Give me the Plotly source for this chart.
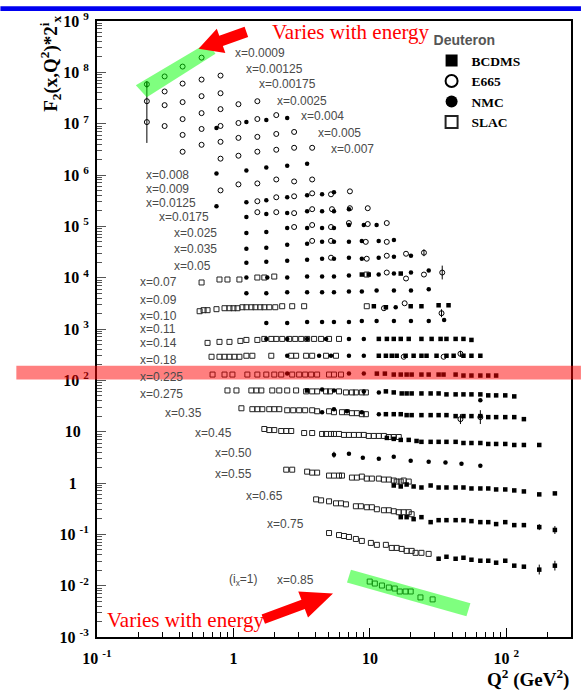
import plotly.graph_objects as go

# ---------------- data ----------------
x_bins = [0.0009, 0.00125, 0.00175, 0.0025, 0.004, 0.005, 0.007, 0.008, 0.009,
          0.0125, 0.0175, 0.025, 0.035, 0.05, 0.07, 0.09, 0.10, 0.11, 0.14, 0.18,
          0.225, 0.275, 0.35, 0.45, 0.50, 0.55, 0.65, 0.75, 0.85]
i_x = [29, 28, 27, 26, 25, 24, 23, 22, 21, 20, 19, 18, 17, 16, 15, 14, 13, 12,
       11, 10, 9, 8, 7, 6, 5, 4, 3, 2, 1]
bin_labels = ["x=0.0009", "x=0.00125", "x=0.00175", "x=0.0025", "x=0.004", "x=0.005",
              "x=0.007", "x=0.008", "x=0.009", "x=0.0125", "x=0.0175", "x=0.025",
              "x=0.035", "x=0.05", "x=0.07", "x=0.09", "x=0.10", "x=0.11", "x=0.14",
              "x=0.18", "x=0.225", "x=0.275", "x=0.35", "x=0.45", "x=0.50", "x=0.55",
              "x=0.65", "x=0.75", "x=0.85"]

# F2 values per x-bin: (Q2 list [GeV^2], F2 list)
E665 = {
    0.0009: ([0.232, 0.313, 0.424, 0.584], [0.109, 0.155, 0.241, 0.360]),
    0.00125: ([0.232, 0.313, 0.424, 0.584, 0.804], [0.102, 0.158, 0.225, 0.269, 0.322]),
    0.00175: ([0.232, 0.313, 0.424, 0.584, 0.804], [0.080, 0.171, 0.196, 0.256, 0.292]),
    0.0025: ([0.313, 0.424, 0.584, 0.804, 1.088, 1.497], [0.134, 0.183, 0.239, 0.286, 0.357, 0.408]),
    0.004: ([0.424, 0.584, 0.804, 1.088, 1.497, 2.060], [0.180, 0.235, 0.269, 0.307, 0.367, 0.438]),
    0.005: ([0.424, 0.584, 0.804, 1.088, 1.497, 2.060, 2.785], [0.169, 0.231, 0.264, 0.315, 0.330, 0.376, 0.411]),
    0.007: ([0.804, 1.088, 1.497, 2.060, 2.785, 3.775], [0.248, 0.283, 0.339, 0.370, 0.404, 0.404]),
    0.009: ([0.804, 1.088, 1.497, 2.060, 2.785, 3.775], [0.239, 0.313, 0.327, 0.390, 0.357, 0.390]),
    0.0125: ([1.497, 2.060, 2.785, 3.775, 5.187, 7.139], [0.294, 0.351, 0.367, 0.419, 0.401, 0.458]),
    0.0175: ([1.497, 2.060, 2.785, 3.775, 5.274, 7.139, 9.646], [0.360, 0.360, 0.345, 0.412, 0.412, 0.430, 0.430]),
    0.025: ([2.785, 3.775, 5.187, 7.020, 9.646, 13.3], [0.370, 0.405, 0.370, 0.442, 0.423, 0.442]),
    0.035: ([3.775, 5.187, 9.329, 13.3], [0.397, 0.397, 0.380, 0.380]),
    0.05: ([5.187, 9.486, 13.3, 18.4, 24.9], [0.374, 0.357, 0.408, 0.446, 0.467]),
    0.07: ([13.3, 18.4, 24.9, 33.9], [0.384, 0.294, 0.351, 0.384]),
    0.10: ([12.67, 17.98], [0.310, 0.387]),
    0.11: ([33.5], [0.496]),
    0.18: ([17.7, 34.7, 46.1], [0.281, 0.281, 0.321]),
    0.35: ([46.1, 64.5], [0.137, 0.150]),
}
E665_err = {  # (x-bin, point index): (plus, minus) in F2 units
    (0.0009, 0): (0.017, 0.015),
    (0.00175, 0): (0.394, 0.0486),
    (0.05, 4): (0.078, 0.067),
    (0.07, 3): (0.140, 0.102),
    (0.11, 0): (0.096, 0.081),
    (0.18, 2): (0.046, 0.041),
    (0.35, 0): (0.034, 0.027),
    (0.35, 1): (0.055, 0.040),
}

NMC = {
    0.004: ([0.751, 1.244, 1.741, 2.478], [0.246, 0.321, 0.351, 0.383]),
    0.008: ([0.751, 1.244, 1.741, 2.478, 3.467], [0.255, 0.291, 0.332, 0.363, 0.397]),
    0.0125: ([0.751, 1.244, 1.741, 2.478, 3.467, 4.463, 5.454], [0.235, 0.281, 0.307, 0.351, 0.384, 0.401, 0.438]),
    0.0175: ([1.244, 1.741, 2.478, 3.467, 4.463, 5.454, 7.020], [0.289, 0.330, 0.345, 0.377, 0.377, 0.377, 0.412]),
    0.025: ([1.244, 1.741, 2.478, 3.467, 4.463, 5.454, 7.020, 9.024, 11.2],
            [0.284, 0.296, 0.354, 0.354, 0.354, 0.354, 0.405, 0.405, 0.405]),
    0.035: ([1.244, 1.741, 2.478, 3.467, 4.463, 5.454, 7.020, 8.729, 11.6, 15.0],
            [0.279, 0.291, 0.333, 0.348, 0.380, 0.380, 0.380, 0.397, 0.397, 0.415]),
    0.05: ([1.244, 1.741, 2.478, 3.467, 4.463, 5.454, 7.020, 8.729, 11.6, 15.0, 20.0],
           [0.299, 0.313, 0.327, 0.342, 0.357, 0.357, 0.374, 0.357, 0.374, 0.391, 0.408]),
    0.07: ([1.244, 1.770, 2.478, 3.467, 4.463, 5.454, 7.020, 11.6, 15.0, 20.0, 27.0],
           [0.307, 0.307, 0.307, 0.321, 0.321, 0.321, 0.336, 0.351, 0.367, 0.384, 0.420]),
    0.09: ([1.244, 1.741, 2.478, 3.467, 4.463, 5.454, 7.020, 8.729, 11.2, 15.0, 20.0, 27.0],
           [0.302, 0.302, 0.316, 0.316, 0.316, 0.316, 0.330, 0.330, 0.345, 0.345, 0.345, 0.361]),
    0.10: ([15.46], [0.324]),
    0.11: ([1.741, 2.478, 3.467, 4.463, 5.454, 7.020, 8.729, 11.2, 15.0, 20.0, 27.0, 35.0],
           [0.318, 0.318, 0.333, 0.333, 0.333, 0.333, 0.348, 0.348, 0.348, 0.348, 0.348, 0.364]),
    0.14: ([1.741, 2.478, 3.467, 4.773, 7.022, 9.025], [0.313, 0.313, 0.313, 0.313, 0.313, 0.313]),
    0.18: ([2.478, 4.244, 5.187, 7.022, 9.025], [0.294, 0.294, 0.294, 0.294, 0.294]),
    0.225: ([2.478, 7.022, 9.025], [0.264, 0.264, 0.264]),
    0.275: ([4.463, 5.454, 9.025, 11.63, 64.5], [0.260, 0.248, 0.238, 0.227, 0.159]),
    0.35: ([4.463, 5.454, 6.791, 8.729, 11.63], [0.187, 0.214, 0.195, 0.187, 0.171]),
    0.50: ([5.454, 7.022, 8.878, 11.63, 14.96, 19.91, 26.97, 35.81, 46.91, 64.5],
           [0.111, 0.116, 0.097, 0.093, 0.101, 0.085, 0.081, 0.078, 0.074, 0.068]),
}
NMC_err = {
    (0.50, 0): (0.016, 0.014),
}

BCDMS = {
    0.07: ([8.729, 9.810, 16.83], [0.351, 0.351, 0.367]),
    0.10: ([10.69, 13.10, 19.91, 23.87, 31.9, 37.72], [0.339, 0.324, 0.339, 0.339, 0.354, 0.354]),
    0.14: ([11.63, 13.32, 14.96, 16.83, 19.26, 23.87, 28.34, 32.97, 36.41, 42.5, 48.5, 55.5],
           [0.313, 0.313, 0.313, 0.313, 0.313, 0.313, 0.313, 0.313, 0.313, 0.313, 0.313, 0.299]),
    0.18: ([11.63, 13.10, 14.47, 15.72, 18.28, 20.92, 23.87, 26.02, 30.8, 36.41, 41.1, 48.5, 55.5, 64.5],
           [0.294, 0.294, 0.294, 0.294, 0.294, 0.294, 0.294, 0.294, 0.294, 0.294, 0.294, 0.294, 0.294, 0.294]),
    0.225: ([11.25, 12.88, 14.96, 16.83, 18.59, 20.24, 23.87, 26.97, 31.9, 34.65, 42.5, 48.5, 55.5, 64.5, 73.7, 84.2],
            [0.264, 0.264, 0.253, 0.253, 0.253, 0.253, 0.253, 0.253, 0.253, 0.253, 0.253, 0.242, 0.242, 0.242, 0.242, 0.242]),
    0.275: ([3.468, 13.10, 14.96, 17.11, 18.59, 20.24, 23.87, 27.88, 31.9, 36.41, 42.5, 48.5, 55.5, 64.5, 73.7, 84.2, 98.2, 114.3],
            [0.248, 0.238, 0.227, 0.217, 0.217, 0.217, 0.217, 0.217, 0.217, 0.208, 0.208, 0.208, 0.208, 0.208, 0.199, 0.199, 0.199, 0.190]),
    0.35: ([13.10, 14.96, 16.83, 18.59, 20.24, 23.87, 27.88, 31.9, 36.41, 42.5, 48.5, 55.5, 64.5, 73.7, 84.2, 98.2, 114.3, 134.5],
           [0.171, 0.171, 0.171, 0.164, 0.164, 0.164, 0.164, 0.164, 0.164, 0.157, 0.157, 0.157, 0.157, 0.150, 0.150, 0.150, 0.150, 0.137]),
    0.45: ([13.32, 14.96, 16.83, 19.26, 21.98, 23.87, 27.88, 31.9, 36.41, 42.5, 48.5, 55.5, 64.5, 73.7, 84.2, 98.2, 114.3, 134.5, 174.3],
           [0.118, 0.113, 0.108, 0.108, 0.103, 0.099, 0.099, 0.099, 0.099, 0.099, 0.094, 0.094, 0.094, 0.090, 0.090, 0.090, 0.086, 0.086, 0.086]),
    0.55: ([14.96, 16.83, 18.59, 20.92, 23.87, 27.88, 31.9, 36.41, 42.5, 48.5, 55.5, 64.5, 73.7, 84.2, 98.2, 114.3, 134.5, 174.3, 226.9],
           [0.0559, 0.0535, 0.0584, 0.0535, 0.0511, 0.0559, 0.0511, 0.0511, 0.0511, 0.0511, 0.0489, 0.0489, 0.0489, 0.0468, 0.0468, 0.0448, 0.0428, 0.0375, 0.0392]),
    0.65: ([16.83, 18.59, 20.92, 23.87, 27.88, 31.9, 36.41, 42.5, 48.5, 55.5, 64.5, 73.7, 84.2, 98.2, 114.3, 134.5, 174.3, 226.9],
           [0.0270, 0.0270, 0.0247, 0.0270, 0.0216, 0.0236, 0.0236, 0.0236, 0.0236, 0.0226, 0.0216, 0.0216, 0.0198, 0.0216, 0.0189, 0.0189, 0.0173, 0.0152]),
    0.75: ([31.9, 36.41, 42.5, 48.5, 55.5, 64.5, 73.7, 84.2, 98.2, 114.3, 134.5, 174.3, 226.9],
           [0.00836, 0.00914, 0.00836, 0.00874, 0.00800, 0.00765, 0.00765, 0.00700, 0.00765, 0.00613, 0.00586, 0.00513, 0.00613]),
}
BCDMS_err = {
    (0.65, 16): (0.0025, 0.0022),
    (0.65, 17): (0.0029, 0.0025),
    (0.75, 0): (0.0008, 0.0007),
    (0.75, 11): (0.0013, 0.0010),
    (0.75, 12): (0.0015, 0.0012),
}

SLAC = {
    0.07: ([0.584, 0.790, 0.904, 1.106, 1.497, 1.684, 1.992, 9.488],
           [0.246, 0.281, 0.281, 0.281, 0.307, 0.307, 0.321, 0.351]),
    0.10: ([0.565, 0.604, 0.646, 0.751, 0.860, 0.935, 1.000, 1.070, 1.163, 1.244, 1.353, 1.447, 1.574, 1.684, 1.831, 2.026, 2.277, 2.695, 3.298, 9.488],
           [0.271, 0.284, 0.284, 0.297, 0.310, 0.310, 0.310, 0.310, 0.324, 0.324, 0.324, 0.324, 0.324, 0.324, 0.324, 0.324, 0.339, 0.339, 0.339, 0.339]),
    0.14: ([0.646, 0.790, 0.935, 1.125, 1.244, 1.497, 1.684, 1.894, 2.060, 2.277, 2.563, 2.835, 3.136, 3.468, 3.902, 4.389, 5.019, 5.938],
           [0.262, 0.274, 0.274, 0.286, 0.299, 0.299, 0.313, 0.313, 0.313, 0.313, 0.313, 0.313, 0.313, 0.313, 0.313, 0.313, 0.313, 0.313]),
    0.18: ([0.691, 0.790, 0.860, 0.935, 1.017, 1.106, 1.244, 1.376, 1.894, 2.651, 2.880, 3.410, 3.775, 4.773, 5.646],
           [0.281, 0.281, 0.281, 0.281, 0.281, 0.281, 0.294, 0.294, 0.294, 0.294, 0.294, 0.294, 0.294, 0.294, 0.294]),
    0.225: ([0.703, 0.860, 0.983, 1.265, 1.497, 1.741, 1.992, 2.240, 2.695, 3.032, 3.354, 3.709, 4.104, 5.019, 5.454, 6.141],
            [0.253, 0.253, 0.253, 0.253, 0.253, 0.253, 0.253, 0.253, 0.253, 0.253, 0.253, 0.253, 0.253, 0.253, 0.253, 0.253]),
    0.275: ([0.904, 1.052, 1.353, 1.472, 1.601, 1.926, 2.167, 2.478, 2.880, 3.410, 3.775, 4.104, 4.773, 5.102, 5.938, 6.677, 7.389, 7.896, 8.729, 9.350],
            [0.248, 0.248, 0.248, 0.248, 0.248, 0.248, 0.248, 0.248, 0.248, 0.238, 0.238, 0.238, 0.238, 0.238, 0.238, 0.227, 0.227, 0.227, 0.227, 0.227]),
    0.35: ([1.144, 1.376, 1.497, 1.628, 1.831, 1.992, 2.167, 2.478, 2.741, 3.032, 3.354, 3.775, 4.104, 5.019, 5.454, 6.243, 6.791, 7.389, 8.029, 8.729, 9.350],
           [0.223, 0.214, 0.214, 0.214, 0.214, 0.214, 0.214, 0.204, 0.204, 0.204, 0.204, 0.204, 0.195, 0.195, 0.187, 0.187, 0.187, 0.179, 0.179, 0.171, 0.171]),
    0.45: ([1.684, 1.831, 1.992, 2.240, 2.437, 2.651, 3.298, 3.775, 4.463, 4.773, 5.187, 5.454, 5.938, 6.457, 7.022, 7.640, 8.312, 9.025, 9.810, 10.69, 11.63, 12.67, 13.77, 14.96, 16.28],
           [0.176, 0.168, 0.168, 0.161, 0.161, 0.161, 0.147, 0.147, 0.141, 0.141, 0.141, 0.141, 0.141, 0.135, 0.135, 0.135, 0.135, 0.135, 0.129, 0.129, 0.129, 0.129, 0.123, 0.123, 0.123]),
    0.55: ([2.437, 2.695, 3.468, 3.775, 4.104, 5.019, 5.454, 5.938, 6.243, 7.389, 8.029, 8.729, 9.488, 10.34, 11.63, 12.67, 13.77, 14.96, 15.72, 16.83, 17.69, 19.26],
           [0.1136, 0.1136, 0.1040, 0.0995, 0.0995, 0.0871, 0.0871, 0.0871, 0.0871, 0.0797, 0.0797, 0.0833, 0.0762, 0.0762, 0.0762, 0.0729, 0.0729, 0.0698, 0.0667, 0.0667, 0.0698, 0.0667]),
    0.65: ([4.036, 4.389, 5.019, 5.646, 6.141, 6.677, 7.896, 8.590, 9.488, 10.34, 11.25, 12.67, 13.77, 14.96, 16.28, 17.69, 19.26, 20.24],
           [0.0600, 0.0574, 0.0549, 0.0502, 0.0502, 0.0480, 0.0440, 0.0440, 0.0421, 0.0421, 0.0385, 0.0368, 0.0368, 0.0352, 0.0337, 0.0337, 0.0337, 0.0308]),
    0.75: ([5.019, 5.938, 6.457, 7.022, 7.896, 8.729, 10.17, 11.25, 13.10, 14.47, 15.72, 17.11, 18.59, 20.24, 21.62, 23.87, 26.97],
           [0.0265, 0.0242, 0.0232, 0.0222, 0.0203, 0.0186, 0.0170, 0.0156, 0.0156, 0.0136, 0.0136, 0.0130, 0.0119, 0.0119, 0.0109, 0.0109, 0.0104]),
    0.85: ([9.97, 10.87, 12.25, 13.77, 15.21, 16.55, 18.28, 19.91, 23.48, 28.82],
           [0.00601, 0.00550, 0.00503, 0.00460, 0.00440, 0.00385, 0.00385, 0.00385, 0.00295, 0.00270]),
}
SLAC_err = {}

y_tick_vals = [1e-3, 1e-2, 1e-1, 1, 10, 1e2, 1e3, 1e4, 1e5, 1e6, 1e7, 1e8, 1e9]
y_tick_text = ["10 <sup>-3</sup>", "10 <sup>-2</sup>", "10 <sup>-1</sup>", "1\u00a0\u00a0\u00a0", "10\u00a0\u00a0",
               "10 <sup>2</sup>", "10 <sup>3</sup>", "10 <sup>4</sup>", "10 <sup>5</sup>", "10 <sup>6</sup>",
               "10 <sup>7</sup>", "10 <sup>8</sup>", "10 <sup>9</sup>"]
x_tick_vals = [0.1, 1, 10, 100]
x_tick_text = ["10 <sup>-1</sup>", "1", "10", "10 <sup>2</sup>"]

# ---------------- geometry helpers (pixel -> paper) ----------------
PL, PR, PT, PB = 97, 573, 15, 637
W, H = 583, 691


def px(x):
    return (x - PL) / (PR - PL)


def py(y):
    return (PB - y) / (PB - PT)


def build(data, err):
    X, Y, EP, EM = [], [], [], []
    for xb, (q2, f2) in data.items():
        scale = 2 ** i_x[x_bins.index(xb)]
        for k, (q, f) in enumerate(zip(q2, f2)):
            X.append(q)
            Y.append(f * scale)
            p, m = err.get((xb, k), (0, 0))
            EP.append(p * scale)
            EM.append(m * scale)
    return X, Y, EP, EM


fig = go.Figure()
styles = [
    ("SLAC", SLAC, SLAC_err, dict(symbol="square-open", size=5, color="#222", line=dict(width=1, color="#222"))),
    ("E665", E665, E665_err, dict(symbol="circle-open", size=5, color="black", line=dict(width=1, color="black"))),
    ("NMC", NMC, NMC_err, dict(symbol="circle", size=4.5, color="black")),
    ("BCDMS", BCDMS, BCDMS_err, dict(symbol="square", size=4.5, color="black")),
]
legend_rank = {"BCDMS": 1, "E665": 2, "NMC": 3, "SLAC": 4}
for name, data, err, mk in styles:
    X, Y, EP, EM = build(data, err)
    fig.add_trace(go.Scatter(
        x=X, y=Y, mode="markers", name=name, marker=mk,
        legendrank=legend_rank[name],
        error_y=dict(type="data", symmetric=False, array=EP, arrayminus=EM,
                     color="black", thickness=1, width=0),
    ))

# ---------------- annotations ----------------
label_pos = [(234, 47), (245, 63), (258, 79), (276, 96), (300, 111), (317, 128), (330, 144),
             (144, 171), (144, 185), (144, 199), (157, 213), (172, 229), (172, 245), (172, 262),
             (138, 279), (138, 297), (138, 313), (138, 326), (138, 340), (138, 357), (138, 374),
             (138, 392), (163, 411), (193, 431), (213, 451), (213, 472), (245, 495), (266, 523),
             (276, 579)]
ann = []
lab_font = dict(family="Liberation Sans, Arial, sans-serif", size=12, color="#4a4a4a")
for txt, (lx, ly) in zip(bin_labels, label_pos):
    ann.append(dict(text=txt, x=px(lx), y=py(ly), xref="paper", yref="paper",
                    xanchor="left", yanchor="middle", showarrow=False, font=lab_font))
ann.append(dict(text="(i<sub>x</sub>=1)", x=px(228), y=py(579), xref="paper", yref="paper",
                xanchor="left", yanchor="middle", showarrow=False, font=lab_font))

serif_b = "Liberation Serif, Times New Roman, serif"
ann.append(dict(text="F<sub>2</sub>(x,Q<sup>2</sup>)*2<sup>i</sup><sub>x</sub>", textangle=-90,
                x=px(50), y=py(58), xref="paper", yref="paper", xanchor="center", yanchor="middle",
                showarrow=False, font=dict(family=serif_b, size=19, color="black", weight="bold")))
ann.append(dict(text="Q<sup>2</sup> (GeV<sup>2</sup>)", x=1.0, y=py(679), xref="paper", yref="paper",
                xanchor="right", yanchor="middle", showarrow=False,
                font=dict(family=serif_b, size=19, color="black", weight="bold")))
red_font = dict(family=serif_b, size=21, color="#ff0000")
ann.append(dict(text="Varies with energy", x=px(352), y=py(26), xref="paper", yref="paper",
                xanchor="center", yanchor="middle", showarrow=False, font=red_font))
ann.append(dict(text="Varies with energy", x=px(186), y=py(620), xref="paper", yref="paper",
                xanchor="center", yanchor="middle", showarrow=False, font=red_font))


# ---------------- shapes ----------------
def poly(points):
    return "M " + " L ".join(f"{px(a):.5f},{py(b):.5f}" for a, b in points) + " Z"


shapes = [
    # blue bar at the top of the slide
    dict(type="rect", xref="paper", yref="paper", x0=px(0), x1=px(W), y0=py(5), y1=py(0),
         fillcolor="#0000f0", line=dict(width=0), layer="above"),
    # red highlight band
    dict(type="rect", xref="paper", yref="paper", x0=px(16), x1=px(W), y0=py(377), y1=py(363),
         fillcolor="rgba(255,0,0,0.5)", line=dict(width=0), layer="above"),
    # green highlight bands
    dict(type="path", xref="paper", yref="paper",
         path=poly([(136, 80), (208, 37), (216, 48), (147, 92)]),
         fillcolor="rgba(0,255,0,0.5)", line=dict(width=0), layer="above"),
    dict(type="path", xref="paper", yref="paper",
         path=poly([(352, 569), (472, 603), (468, 616), (348, 582)]),
         fillcolor="rgba(0,255,0,0.5)", line=dict(width=0), layer="above"),
    # red arrows
    dict(type="path", xref="paper", yref="paper",
         path=poly([(199, 43), (217.3, 22.7), (219.8, 29.8), (245.2, 20.8), (248.8, 31.2),
                    (223.4, 40.2), (225.9, 47.3)]),
         fillcolor="#ff0000", line=dict(width=0), layer="above"),
    dict(type="path", xref="paper", yref="paper",
         path=poly([(334, 593), (299.1, 591.0), (302.3, 599.4), (262.3, 614.3), (265.7, 623.7),
                    (305.7, 608.8), (308.9, 617.2)]),
         fillcolor="#ff0000", line=dict(width=0), layer="above"),
]

minor_x = [k * 10.0 ** p for p in range(-1, 3) for k in range(2, 10)]
minor_y = [k * 10.0 ** p for p in range(-3, 9) for k in range(2, 10)]
tick_font = dict(family=serif_b, size=16, color="black", weight="bold")

fig.update_layout(
    width=W, height=H,
    margin=dict(l=PL, r=W - PR, t=PT, b=H - PB),
    paper_bgcolor="white", plot_bgcolor="white",
    showlegend=True,
    legend=dict(x=px(433), y=py(21), xanchor="left", yanchor="top",
                bgcolor="rgba(0,0,0,0)", borderwidth=0, itemsizing="constant",
                font=dict(family=serif_b, size=13.5, color="black", weight="bold"),
                title=dict(text="Deuteron",
                           font=dict(family="Liberation Sans, Arial, sans-serif", size=14, color="#555"))),
    xaxis=dict(type="log", range=[-1, 2.474], showgrid=False, zeroline=False,
               showline=True, linecolor="black", linewidth=2, mirror=True,
               ticks="inside", ticklen=9, tickwidth=1, tickcolor="black",
               tickmode="array", tickvals=x_tick_vals, ticktext=x_tick_text,
               tickfont=tick_font, ticklabelstandoff=6,
               minor=dict(ticks="inside", ticklen=5, tickwidth=1, tickcolor="black",
                          tickmode="array", tickvals=minor_x, showgrid=False)),
    yaxis=dict(type="log", range=[-3, 9], showgrid=False, zeroline=False,
               showline=True, linecolor="black", linewidth=2, mirror=True,
               ticks="inside", ticklen=9, tickwidth=1, tickcolor="#555",
               tickmode="array", tickvals=y_tick_vals, ticktext=y_tick_text,
               tickfont=tick_font, ticklabelstandoff=3,
               minor=dict(ticks="inside", ticklen=5, tickwidth=1, tickcolor="#555",
                          tickmode="array", tickvals=minor_y, showgrid=False)),
    annotations=ann,
    shapes=shapes,
)

fig.write_html("out.html", config={"displayModeBar": False},
               post_script="document.body.style.margin='0px';document.body.style.padding='0px';")
